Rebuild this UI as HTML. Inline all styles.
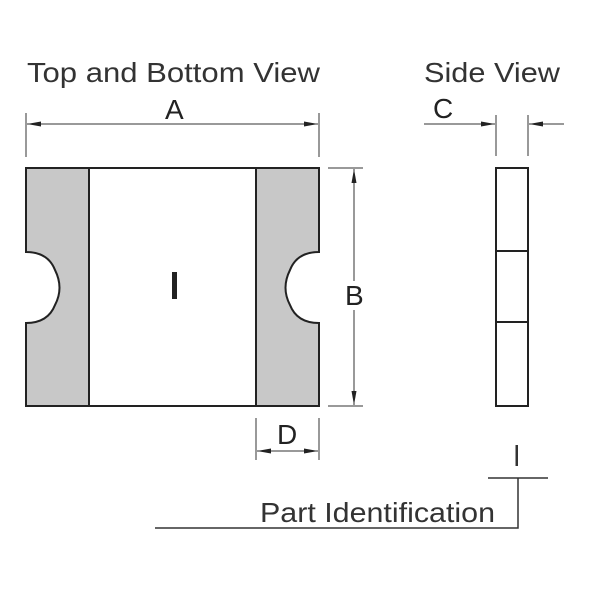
<!DOCTYPE html>
<html><head><style>body{margin:0;background:#fff}svg{display:block}</style></head><body>
<svg width="600" height="600" viewBox="0 0 600 600" font-family="Liberation Sans, sans-serif" fill="#222">
<defs>
<marker id="ar" viewBox="0 0 10 10" refX="10" refY="5" markerWidth="14" markerHeight="5" markerUnits="userSpaceOnUse" orient="auto-start-reverse" preserveAspectRatio="none"><path d="M0,0 L10,5 L0,10 z" fill="#222"/></marker>
</defs>
<text x="27" y="82" font-size="28" fill="#333" textLength="293" lengthAdjust="spacingAndGlyphs">Top and Bottom View</text>
<text x="424" y="82" font-size="28" fill="#333" textLength="136" lengthAdjust="spacingAndGlyphs">Side View</text>
<g stroke="#333" stroke-width="1" fill="none">
<line x1="26" y1="113" x2="26" y2="157"/><line x1="319" y1="113" x2="319" y2="157"/>
<line x1="27" y1="124" x2="318" y2="124" marker-start="url(#ar)" marker-end="url(#ar)"/>
<line x1="328" y1="168" x2="363" y2="168"/><line x1="328" y1="406" x2="363" y2="406"/>
<line x1="354" y1="169" x2="354" y2="281"/><line x1="354" y1="310" x2="354" y2="405"/>
<line x1="354" y1="200" x2="354" y2="169" marker-end="url(#ar)"/>
<line x1="354" y1="380" x2="354" y2="405" marker-end="url(#ar)"/>
<line x1="256" y1="418" x2="256" y2="460"/><line x1="319" y1="418" x2="319" y2="460"/>
<line x1="257" y1="451" x2="318" y2="451" marker-start="url(#ar)" marker-end="url(#ar)"/>
<line x1="496" y1="115" x2="496" y2="156"/><line x1="528" y1="115" x2="528" y2="156"/>
<line x1="424" y1="124" x2="495" y2="124" marker-end="url(#ar)"/>
<line x1="564" y1="124" x2="529" y2="124" marker-end="url(#ar)"/>
</g>
<text x="165" y="119" font-size="28">A</text>
<text x="345" y="305" font-size="28">B</text>
<text x="277" y="444" font-size="28">D</text>
<text x="433" y="118" font-size="28">C</text>
<g stroke="#222" stroke-width="2">
<path d="M26,168 H89 V406 H26 V323 Q48,323 55,305 Q64,288 55,270 Q48,252 26,252 Z" fill="#c8c8c8"/>
<path d="M256,168 H319 V252 Q297,252 290,270 Q281,288 290,305 Q297,323 319,323 V406 H256 Z" fill="#c8c8c8"/>
<rect x="89" y="168" width="167" height="238" fill="#fff"/>
<rect x="496" y="168" width="32" height="238" fill="#fff"/>
<line x1="496" y1="251" x2="528" y2="251"/><line x1="496" y1="322" x2="528" y2="322"/>
</g>
<rect x="172" y="272" width="5" height="27" fill="#222"/>
<g stroke="#333" stroke-width="1.5" fill="none">
<line x1="488" y1="478" x2="548" y2="478"/>
<polyline points="518,478 518,528 155,528"/>
</g>
<rect x="515.5" y="445" width="2.5" height="21" fill="#333"/>
<text x="260" y="522" font-size="28" fill="#333" textLength="235" lengthAdjust="spacingAndGlyphs">Part Identification</text>
</svg>
</body></html>
